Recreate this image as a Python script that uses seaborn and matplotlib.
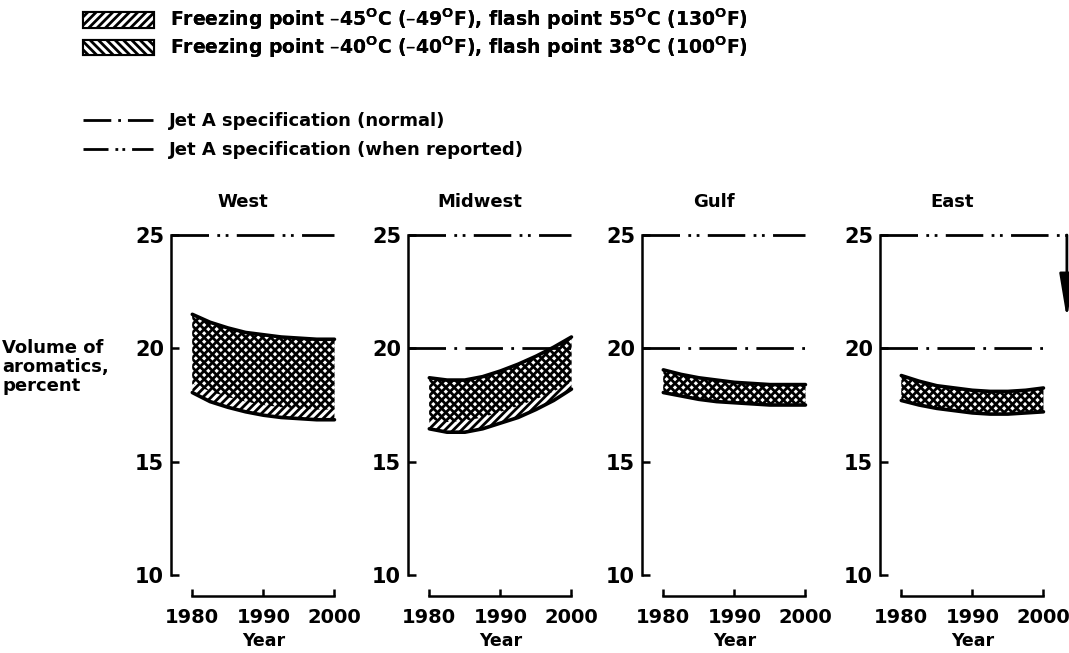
import pandas as pd
import seaborn as sns
import matplotlib.pyplot as plt
from matplotlib.patches import Patch
from matplotlib.lines import Line2D

# values
years = [1980, 1982.5, 1985, 1987.5, 1990, 1992.5, 1995, 1997.5, 2000]
regions = ['West', 'Midwest', 'Gulf', 'East']

# top edge shared by both bands (volume % aromatics)
west_top = [21.5, 21.15, 20.9, 20.7, 20.6, 20.5, 20.45, 20.4, 20.4]
# lower edge of the -40C / 38C band
west_mid = [18.45, 18.1, 17.85, 17.65, 17.5, 17.4, 17.35, 17.3, 17.3]
# lower edge of the -45C / 55C band
west_low = [18.05, 17.65, 17.4, 17.2, 17.05, 16.95, 16.9, 16.85, 16.85]

midwest_top = [18.7, 18.6, 18.6, 18.75, 19.0, 19.3, 19.65, 20.05, 20.5]
midwest_mid = [16.85, 16.75, 16.8, 16.95, 17.2, 17.45, 17.75, 18.1, 18.5]
midwest_low = [16.45, 16.3, 16.3, 16.45, 16.7, 16.95, 17.3, 17.7, 18.2]

gulf_top = [19.05, 18.85, 18.7, 18.6, 18.5, 18.45, 18.4, 18.4, 18.4]
gulf_mid = [18.05, 17.9, 17.75, 17.65, 17.6, 17.55, 17.5, 17.5, 17.5]
gulf_low = [18.05, 17.9, 17.75, 17.65, 17.6, 17.55, 17.5, 17.5, 17.5]

east_top = [18.8, 18.55, 18.35, 18.25, 18.15, 18.1, 18.1, 18.15, 18.25]
east_mid = [17.7, 17.5, 17.35, 17.25, 17.15, 17.1, 17.1, 17.15, 17.2]
east_low = [17.7, 17.5, 17.35, 17.25, 17.15, 17.1, 17.1, 17.15, 17.2]

# Jet A specification levels per region
spec_reported = [25, 25, 25, 25]
spec_normal = [None, 20, 20, 20]
spec_start = 1977
spec_end = [2000, 2000, 2000, 2003.3]
east_arrow_to = 21.3

legend_band_labels = [
    'Freezing point \u201345$^{\\mathbf{O}}$C (\u201349$^{\\mathbf{O}}$F), flash point 55$^{\\mathbf{O}}$C (130$^{\\mathbf{O}}$F)',
    'Freezing point \u201340$^{\\mathbf{O}}$C (\u201340$^{\\mathbf{O}}$F), flash point 38$^{\\mathbf{O}}$C (100$^{\\mathbf{O}}$F)',
]
legend_line_labels = ['Jet A specification (normal)', 'Jet A specification (when reported)']

bands = {
    'West': (west_top, west_mid, west_low),
    'Midwest': (midwest_top, midwest_mid, midwest_low),
    'Gulf': (gulf_top, gulf_mid, gulf_low),
    'East': (east_top, east_mid, east_low),
}

sns.set_style('ticks')
plt.rcParams['font.family'] = ['DejaVu Sans']
plt.rcParams['font.weight'] = 'bold'
plt.rcParams['axes.titleweight'] = 'bold'
plt.rcParams['axes.labelweight'] = 'bold'
plt.rcParams['text.color'] = 'black'
plt.rcParams['axes.labelcolor'] = 'black'
plt.rcParams['hatch.linewidth'] = 2.0
plt.rcParams['lines.scale_dashes'] = False

hatch_a = '////'
hatch_b = '\\\\\\\\'
normal_dash = (0, (27, 6, 2, 6))
reported_dash = (0, (27, 6, 2, 4, 2, 6))

W, H = 1069, 653
fig = plt.figure(figsize=(W / 100, H / 100), dpi=100)
lefts = [171, 408, 642, 880]

for i, region in enumerate(regions):
    ax = fig.add_axes([lefts[i] / W, 1 - 575 / H, 167 / W, 340 / H])
    top, mid, low = bands[region]

    ax.fill_between(years, low, top, facecolor='none', edgecolor='black',
                    hatch=hatch_a, linewidth=0)
    ax.fill_between(years, mid, top, facecolor='none', edgecolor='black',
                    hatch=hatch_b, linewidth=0)

    edges = pd.DataFrame({'year': years * 2, 'value': top + low,
                          'edge': ['top'] * len(years) + ['low'] * len(years)})
    sns.lineplot(data=edges, x='year', y='value', units='edge', estimator=None,
                 color='black', lw=2.6, ax=ax, legend=False)

    ax.plot([spec_start, spec_end[i]], [spec_reported[i]] * 2, color='black',
            lw=2, linestyle=reported_dash, clip_on=False)
    if spec_normal[i] is not None:
        ax.plot([spec_start, 2000], [spec_normal[i]] * 2, color='black',
                lw=2, linestyle=normal_dash, clip_on=False)
    if region == 'East':
        ax.annotate('', xy=(spec_end[i], east_arrow_to), xytext=(spec_end[i], spec_reported[i]),
                    arrowprops=dict(arrowstyle='-|>,head_length=1.5,head_width=0.25',
                                    color='black', lw=2, shrinkA=0, shrinkB=0,
                                    mutation_scale=18),
                    annotation_clip=False)

    ax.set_xlim(1977, 2000.5)
    ax.set_ylim(10, 25)
    ax.set_xticks([1980, 1990, 2000])
    ax.set_yticks([10, 15, 20, 25])
    for s in ['top', 'right']:
        ax.spines[s].set_visible(False)
    ax.spines['left'].set_bounds(10, 25)
    ax.spines['bottom'].set_position(('outward', 15))
    ax.spines['bottom'].set_bounds(1980, 2000)
    for s in ['left', 'bottom']:
        ax.spines[s].set_linewidth(1.8)
        ax.spines[s].set_color('black')
    ax.tick_params(axis='y', direction='in', length=6, width=1.8, pad=5,
                   labelsize=15, colors='black')
    ax.tick_params(axis='x', direction='in', length=5, width=1.8, pad=9,
                   labelsize=14, colors='black')

    ax.set_title(region, x=0.43, pad=20, fontsize=13, color='black')
    ax.set_ylabel('')
    ax.set_xlabel('Year', fontsize=12.5, color='black')
    ax.xaxis.set_label_coords(0.553, -0.168)

fig.text(0.002, 1 - 367 / H, 'Volume of\naromatics,\npercent', ha='left',
         va='center', fontsize=13, fontweight='bold', linespacing=1.1, color='black')

band_handles = [
    Patch(facecolor='white', edgecolor='black', hatch=hatch_a, lw=1.5),
    Patch(facecolor='white', edgecolor='black', hatch=hatch_b, lw=1.5),
]
leg1 = fig.legend(band_handles, legend_band_labels, loc='upper left',
                  bbox_to_anchor=(83 / W, 1 - 7 / H), frameon=False, fontsize=13.5,
                  handlelength=3.8, handleheight=0.9, handletextpad=0.85,
                  labelspacing=0.1, borderpad=0, borderaxespad=0, labelcolor='black')

line_handles = [
    Line2D([], [], color='black', lw=2, linestyle=(0, (20, 5, 2, 5))),
    Line2D([], [], color='black', lw=2, linestyle=(0, (18, 5, 2, 3, 2, 5))),
]
leg2 = fig.legend(line_handles, legend_line_labels, loc='upper left',
                  bbox_to_anchor=(83 / W, 1 - 112 / H), frameon=False, fontsize=13,
                  handlelength=3.9, handletextpad=0.85, labelspacing=0.6,
                  borderpad=0, borderaxespad=0, labelcolor='black')
fig.add_artist(leg1)

fig.savefig('out.png', dpi=100)
